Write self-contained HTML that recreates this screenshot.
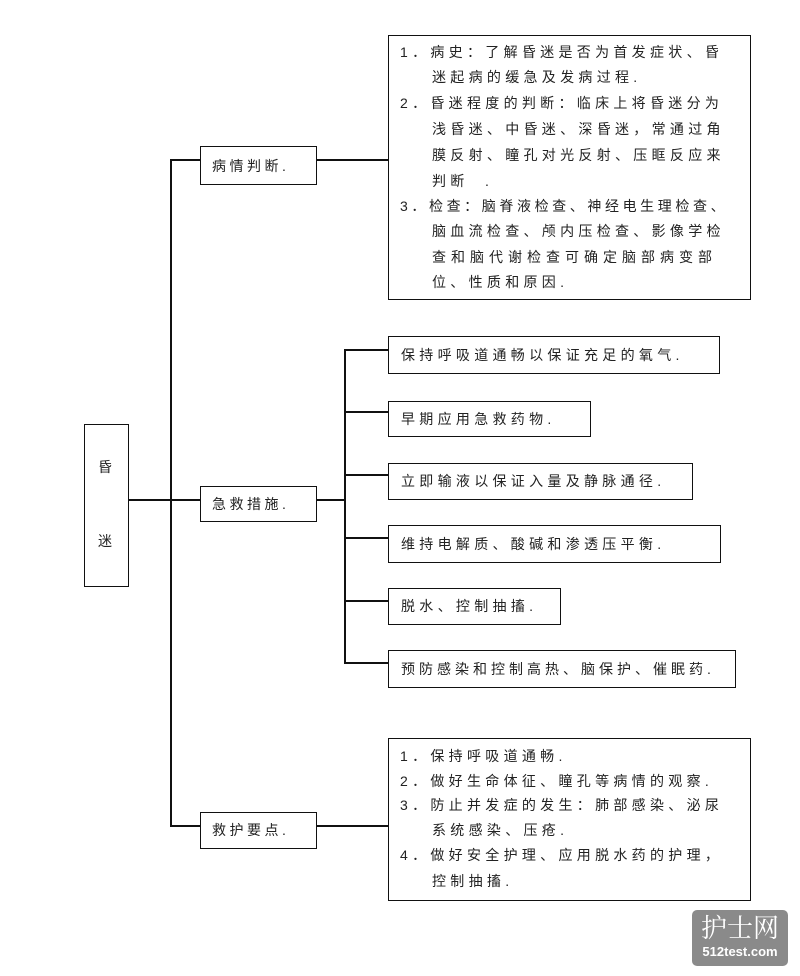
<!DOCTYPE html>
<html><head><meta charset="utf-8"><style>
body{margin:0;width:800px;height:976px;background:#fff;position:relative;overflow:hidden;font-family:"Liberation Sans","Noto Sans CJK SC",sans-serif;color:#222}
.b{position:absolute;border:1.5px solid #111;box-sizing:border-box;background:#fff}
.l{position:absolute;background:#111}
.t{position:absolute;font-size:14px;letter-spacing:4.3px;white-space:nowrap;line-height:18px}
</style></head><body>
<div class="l" style="left:170px;top:160px;width:2px;height:666px"></div>
<div class="l" style="left:128px;top:499px;width:72px;height:2px"></div>
<div class="l" style="left:170px;top:159px;width:30px;height:2px"></div>
<div class="l" style="left:170px;top:825px;width:30px;height:2px"></div>
<div class="l" style="left:316px;top:159px;width:72px;height:2px"></div>
<div class="l" style="left:316px;top:825px;width:72px;height:2px"></div>
<div class="l" style="left:316px;top:499px;width:30px;height:2px"></div>
<div class="l" style="left:344px;top:349px;width:2px;height:314px"></div>
<div class="l" style="left:344px;top:349px;width:44px;height:2px"></div>
<div class="l" style="left:344px;top:411px;width:44px;height:2px"></div>
<div class="l" style="left:344px;top:474px;width:44px;height:2px"></div>
<div class="l" style="left:344px;top:537px;width:44px;height:2px"></div>
<div class="l" style="left:344px;top:600px;width:44px;height:2px"></div>
<div class="l" style="left:344px;top:662px;width:44px;height:2px"></div>

<div class="b" style="left:84px;top:424px;width:45px;height:163px"></div>
<div class="t" style="left:98px;top:458px">昏</div>
<div class="t" style="left:98px;top:532px">迷</div>

<div class="b" style="left:200px;top:146px;width:117px;height:39px"></div>
<div class="t" style="left:212px;top:157px;letter-spacing:3.5px">病情判断.</div>
<div class="b" style="left:200px;top:486px;width:117px;height:36px"></div>
<div class="t" style="left:212px;top:495px;letter-spacing:3.5px">急救措施.</div>
<div class="b" style="left:200px;top:812px;width:117px;height:37px"></div>
<div class="t" style="left:212px;top:821px;letter-spacing:3.5px">救护要点.</div>

<div class="b" style="left:388px;top:35px;width:363px;height:265px"></div>
<div class="t" style="left:400px;top:43px">1．病史：了解昏迷是否为首发症状、昏</div>
<div class="t" style="left:432px;top:68px">迷起病的缓急及发病过程.</div>
<div class="t" style="left:400px;top:94px">2．昏迷程度的判断：临床上将昏迷分为</div>
<div class="t" style="left:432px;top:120px">浅昏迷、中昏迷、深昏迷，常通过角</div>
<div class="t" style="left:432px;top:146px">膜反射、瞳孔对光反射、压眶反应来</div>
<div class="t" style="left:432px;top:172px">判断&nbsp;&nbsp;.</div>
<div class="t" style="left:400px;top:197px;letter-spacing:3.6px">3．检查：脑脊液检查、神经电生理检查、</div>
<div class="t" style="left:432px;top:222px">脑血流检查、颅内压检查、影像学检</div>
<div class="t" style="left:432px;top:248px;letter-spacing:5px">查和脑代谢检查可确定脑部病变部</div>
<div class="t" style="left:432px;top:273px">位、性质和原因.</div>

<div class="b" style="left:388px;top:336px;width:332px;height:38px"></div>
<div class="t" style="left:401px;top:346px">保持呼吸道通畅以保证充足的氧气.</div>
<div class="b" style="left:388px;top:401px;width:203px;height:36px"></div>
<div class="t" style="left:401px;top:410px">早期应用急救药物.</div>
<div class="b" style="left:388px;top:463px;width:305px;height:37px"></div>
<div class="t" style="left:401px;top:472px">立即输液以保证入量及静脉通径.</div>
<div class="b" style="left:388px;top:525px;width:333px;height:38px"></div>
<div class="t" style="left:401px;top:535px">维持电解质、酸碱和渗透压平衡.</div>
<div class="b" style="left:388px;top:588px;width:173px;height:37px"></div>
<div class="t" style="left:401px;top:597px">脱水、控制抽搐.</div>
<div class="b" style="left:388px;top:650px;width:348px;height:38px"></div>
<div class="t" style="left:401px;top:660px;letter-spacing:4px">预防感染和控制高热、脑保护、催眠药.</div>

<div class="b" style="left:388px;top:738px;width:363px;height:163px"></div>
<div class="t" style="left:400px;top:747px">1．保持呼吸道通畅.</div>
<div class="t" style="left:400px;top:772px">2．做好生命体征、瞳孔等病情的观察.</div>
<div class="t" style="left:400px;top:796px">3．防止并发症的发生：肺部感染、泌尿</div>
<div class="t" style="left:432px;top:821px">系统感染、压疮.</div>
<div class="t" style="left:400px;top:846px">4．做好安全护理、应用脱水药的护理，</div>
<div class="t" style="left:432px;top:872px">控制抽搐.</div>

<div style="position:absolute;left:692px;top:910px;width:96px;height:56px;background:#8a8a8a;border-radius:5px;color:#fff;text-align:center;font-family:'Liberation Sans','Noto Serif CJK SC',serif">
<div style="font-size:26px;line-height:32px;margin-top:2px">护士网</div>
<div style="font-size:13px;line-height:16px;font-weight:bold">512test.com</div></div>
</body></html>
